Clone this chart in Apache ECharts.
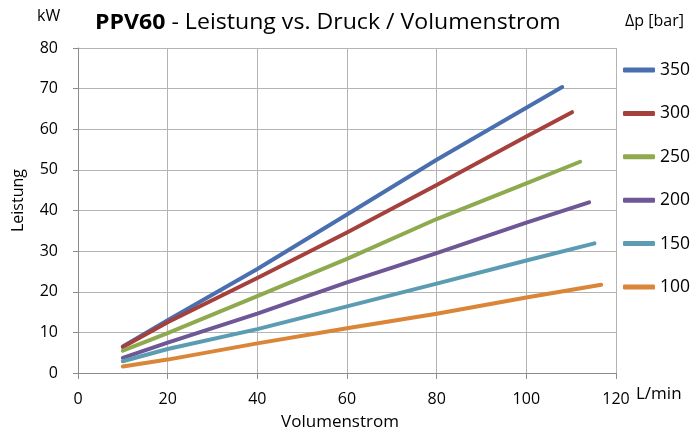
<!DOCTYPE html>
<html>
<head>
<meta charset="utf-8">
<script src="https://cdn.jsdelivr.net/npm/echarts@6/dist/echarts.min.js"></script>
<style>
html,body{margin:0;padding:0;background:#fff;}
#chart{width:697px;height:432px;}
</style>
</head>
<body>
<div id="chart"></div>
<script>
const seriesNames = ['350', '300', '250', '200', '150', '100'];
const p350 = [[10, 6.5], [20, 13.0], [40, 25.6], [60, 39.0], [80, 52.5], [100, 65.3], [108, 70.4]];
const p300 = [[10, 6.4], [20, 12.5], [40, 23.4], [60, 34.6], [80, 46.3], [100, 58.2], [110.2, 64.2]];
const p250 = [[10, 5.5], [20, 9.8], [40, 18.9], [60, 28.1], [80, 37.9], [100, 46.7], [112, 52.0]];
const p200 = [[10, 3.7], [20, 7.5], [40, 14.6], [60, 22.3], [80, 29.5], [100, 37.0], [114, 42.0]];
const p150 = [[10, 2.9], [20, 5.9], [40, 10.8], [60, 16.4], [80, 22.0], [100, 27.7], [115.2, 31.9]];
const p100 = [[10, 1.6], [20, 3.3], [40, 7.3], [60, 11.0], [80, 14.6], [100, 18.6], [116.7, 21.7]];
const seriesData = [p350, p300, p250, p200, p150, p100];
const colors = ['#4A6FAE', '#A5403C', '#8EA94E', '#6D5796', '#5B9CB3', '#DA8538'];

const FONT = 'Open Sans';
const chart = echarts.init(document.getElementById('chart'), null, {renderer: 'canvas'});
const option = {
  animation: false,
  color: colors,
  textStyle: {fontFamily: FONT},
  grid: {left: 78, right: 81, top: 48, bottom: 59, containLabel: false, outerBoundsMode: 'none'},
  legend: {
    orient: 'vertical',
    right: 2, top: 55,
    icon: 'roundRect',
    itemWidth: 32, itemHeight: 5,
    itemGap: 23.4,
    data: seriesNames,
    textStyle: {fontFamily: FONT, fontSize: 17.5, color: '#000', lineHeight: 20, height: 20}
  },
  xAxis: {
    type: 'value', min: 0, max: 120, interval: 20,
    name: 'Volumenstrom', nameLocation: 'middle', nameGap: 41,
    nameTextStyle: {fontFamily: FONT, fontSize: 17, color: '#000', padding: [0, 14, 0, 0]},
    axisLine: {show: true, lineStyle: {color: '#8c8c8c', width: 1}},
    axisTick: {show: true, length: 6, lineStyle: {color: '#8c8c8c'}},
    axisLabel: {fontFamily: FONT, fontSize: 16, color: '#000', margin: 18},
    splitLine: {show: true, lineStyle: {color: '#b4b4b4', width: 1}}
  },
  yAxis: {
    type: 'value', min: 0, max: 80, interval: 10,
    name: 'Leistung', nameLocation: 'middle', nameGap: 52, nameRotate: 90,
    nameTextStyle: {fontFamily: FONT, fontSize: 16, color: '#000', padding: [0, 0, 0, 20]},
    axisLine: {show: true, lineStyle: {color: '#8c8c8c', width: 1}},
    axisTick: {show: true, length: 5, lineStyle: {color: '#8c8c8c'}},
    axisLabel: {fontFamily: FONT, fontSize: 16, color: '#000', margin: 20},
    splitLine: {show: true, lineStyle: {color: '#b4b4b4', width: 1}}
  },
  graphic: [
    {type: 'text', x: 95, y: 13, scaleX: 1.1, originX: 0, originY: 0,
     style: {
       text: '{b|PPV60}{n| - Leistung vs. Druck / Volumenstrom}',
       rich: {
         b: {fontFamily: FONT, fontWeight: 'bold', fontSize: 21, fill: '#000'},
         n: {fontFamily: FONT, fontWeight: 'normal', fontSize: 21, fill: '#000'}
       }
     }},
    {type: 'text', left: 37, top: 8, style: {text: 'kW', fontFamily: FONT, fontSize: 16, fill: '#000'}},
    {type: 'text', left: 636, top: 386, style: {text: 'L/min', fontFamily: FONT, fontSize: 17, fill: '#000'}},
    {type: 'text', left: 625, top: 13, style: {text: 'Δp [bar]', fontFamily: FONT, fontSize: 16, fill: '#000'}}
  ],
  series: seriesNames.map((n, i) => ({
    name: n, type: 'line', data: seriesData[i],
    showSymbol: false, symbol: 'none', smooth: false,
    lineStyle: {width: 4, cap: 'round', join: 'round', color: colors[i]},
    itemStyle: {color: colors[i]}
  }))
};
chart.setOption(option);
</script>
</body>
</html>
